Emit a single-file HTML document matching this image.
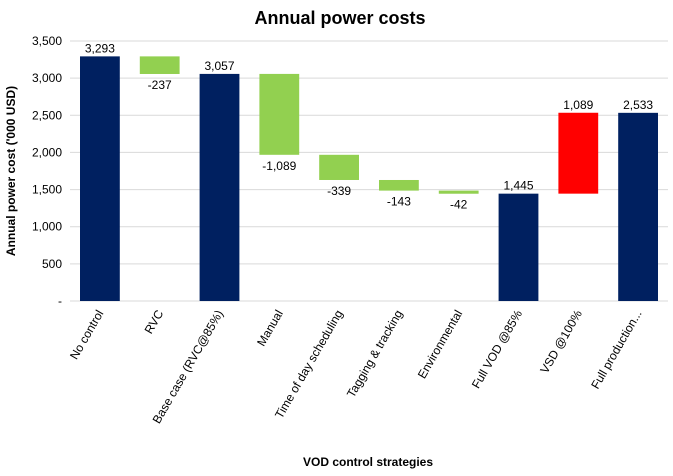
<!DOCTYPE html>
<html><head><meta charset="utf-8"><style>
html,body{margin:0;padding:0;background:#fff;}
svg{display:block;font-family:"Liberation Sans",Arial,sans-serif;}
</style></head><body>
<svg id="c" width="673" height="476">
<text x="340" y="24" text-anchor="middle" font-size="18" font-weight="bold" fill="#000">Annual power costs</text>
<text transform="translate(15,171) rotate(-90)" text-anchor="middle" font-size="12" font-weight="bold">Annual power cost ('000 USD)</text>
<text x="368" y="466" text-anchor="middle" font-size="12" font-weight="bold">VOD control strategies</text>
<g id="grid"></g><g id="bars"></g><g id="labels"></g>
</svg>
<script>
const categories=["No control","RVC","Base case (RVC@85%)","Manual","Time of day scheduling","Tagging & tracking","Environmental","Full VOD @85%","VSD @100%","Full production..."];
const values=[3293,-237,3057,-1089,-339,-143,-42,1445,1089,2533];
const isTotal=[true,false,true,false,false,false,false,true,false,true];
const yTicks=[0,500,1000,1500,2000,2500,3000,3500];
const yTickLabels=["-","500","1,000","1,500","2,000","2,500","3,000","3,500"];
const NS="http://www.w3.org/2000/svg";
const x0=70,x1=668,y0=301,y1=41,ymax=3500;
const bw=(x1-x0)/categories.length;
const ys=v=>y0-(v/ymax)*(y0-y1);
const xs=i=>x0+bw*i;
function mk(t,a,p){const e=document.createElementNS(NS,t);for(const k in a)e.setAttribute(k,a[k]);p.appendChild(e);return e;}
const grid=document.getElementById('grid'),bars=document.getElementById('bars'),labels=document.getElementById('labels');
yTicks.forEach((v,i)=>{
 const l=mk('line',{x1:x0,x2:x1,y1:ys(v),y2:ys(v),stroke:'#d9d9d9','stroke-width':1},grid);
 
 
 const t=mk('text',{x:62,y:ys(v)+4,'text-anchor':'end','font-size':12},grid);
 t.textContent=yTickLabels[i];
 
 
});
const fmt=v=>(v<0?"-":"")+Math.abs(v).toLocaleString('en-US');
let run=0;
categories.forEach((c,i)=>{
 const v=values[i];let lo,hi,col;
 if(isTotal[i]){lo=0;hi=v;run=v;col='#002060';}
 else{const s=run;run=s+v;lo=Math.min(s,run);hi=Math.max(s,run);col=v<0?'#92d050':'#ff0000';}
 const bx=xs(i)+10,w=bw-20;
 const r=mk('rect',{x:bx,y:ys(hi),width:w,height:Math.max(ys(lo)-ys(hi),2),fill:col},bars);
 
 
 const cx=bx+w/2;
 const t=mk('text',{x:cx,'text-anchor':'middle','font-size':12},labels);
 if(v<0)t.setAttribute('y',ys(lo)+15);else t.setAttribute('y',ys(hi)-4);
 t.textContent=fmt(v);
 
 
 const xl=mk('text',{transform:`translate(${cx+4},${y0+12}) rotate(-60)`,'text-anchor':'end','font-size':12},labels);
 xl.textContent=c;
 
 
});
</script>
</body></html>
